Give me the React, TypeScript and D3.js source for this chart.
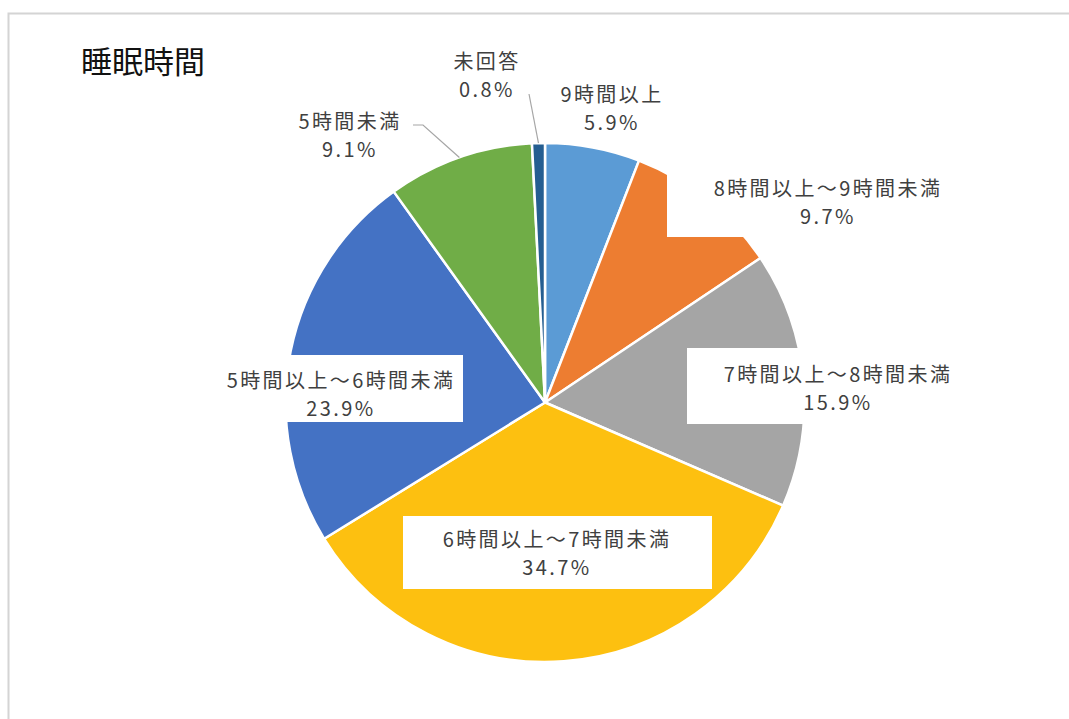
import React from "react";
import * as d3 from "d3";

const categories = [
  "9時間以上",
  "8時間以上～9時間未満",
  "7時間以上～8時間未満",
  "6時間以上～7時間未満",
  "5時間以上～6時間未満",
  "5時間未満",
  "未回答",
];
const values = [5.9, 9.7, 15.9, 34.7, 23.9, 9.1, 0.8];
const colors = ["#5B9BD5", "#ED7D31", "#A5A5A5", "#FDC010", "#4472C4", "#70AD47", "#255E91"];
const title = "睡眠時間";

// label layout: text center, optional white box (x0,x1,y0,y1), optional leader line start
type LabelLayout = { cx: number; cy: number; box?: [number, number, number, number]; leader?: [number, number][] };
const labelLayout: LabelLayout[] = [
  { cx: 612, cy: 107 },
  { cx: 828, cy: 201, box: [667, 989, 164, 237] },
  { cx: 838, cy: 387, box: [687, 989, 348, 424] },
  { cx: 557, cy: 552, box: [403, 712, 516, 589] },
  { cx: 341, cy: 393, box: [219, 463, 355, 422] },
  { cx: 350, cy: 134, leader: [[413, 125], [423, 125]] },
  { cx: 487, cy: 74, leader: [[529, 94]] },
];

const W = 1069;
const H = 719;
const CX = 545;
const CY = 402.5;
const R = 259.5;

export default function App() {
  const pie = d3.pie<number>().sort(null).value((d) => d)(values);
  const arc = d3.arc<d3.PieArcDatum<number>>().innerRadius(0).outerRadius(R);
  const fontFamily = "'Noto Sans CJK JP', 'Noto Sans', sans-serif";

  return (
    <svg
      width={W}
      height={H}
      style={{ position: "absolute", left: 0, top: 0, background: "#fff" }}
    >
      <rect x={8.5} y={13.5} width={W + 20} height={H + 20} fill="#fff" stroke="#d4d4d4" strokeWidth={2} />
      <text x={81} y={59} fontFamily={fontFamily} fontSize={31} fill="#111" dominantBaseline="central">
        {title}
      </text>
      <g transform={`translate(${CX},${CY})`}>
        {pie.map((d, i) => (
          <path key={i} d={arc(d) || ""} fill={colors[i]} stroke="#fff" strokeWidth={2.5} strokeLinejoin="round" />
        ))}
      </g>
      {pie.map((d, i) => {
        const L = labelLayout[i];
        if (!L.leader) return null;
        const mid = (d.startAngle + d.endAngle) / 2;
        const end: [number, number] = [CX + R * Math.sin(mid), CY - R * Math.cos(mid)];
        const pts = [...L.leader, end];
        return (
          <polyline
            key={"l" + i}
            points={pts.map((p) => p.join(",")).join(" ")}
            fill="none"
            stroke="#a6a6a6"
            strokeWidth={1.2}
          />
        );
      })}
      {pie.map((d, i) => {
        const L = labelLayout[i];
        return (
          <g key={"t" + i}>
            {L.box && (
              <rect x={L.box[0]} y={L.box[2]} width={L.box[1] - L.box[0]} height={L.box[3] - L.box[2]} fill="#fff" />
            )}
            <text
              x={L.cx}
              y={L.cy - 14}
              textAnchor="middle"
              dominantBaseline="central"
              fontFamily={fontFamily}
              fontSize={20}
              letterSpacing={2.4}
              fill="#404040"
            >
              {categories[i]}
            </text>
            <text
              x={L.cx}
              y={L.cy + 14}
              textAnchor="middle"
              dominantBaseline="central"
              fontFamily={fontFamily}
              fontSize={20}
              letterSpacing={2.4}
              fill="#404040"
            >
              {d3.format(".1f")(values[i]) + "%"}
            </text>
          </g>
        );
      })}
    </svg>
  );
}
